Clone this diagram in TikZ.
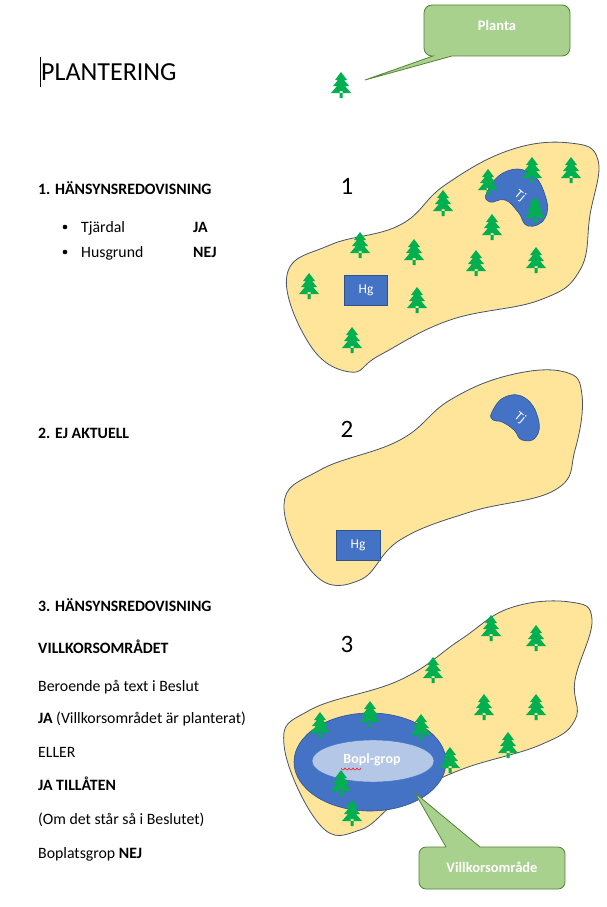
\documentclass[tikz,border=0pt]{standalone}
\usepackage{fontspec}
\setmainfont{Carlito}
\definecolor{landc}{RGB}{255,229,153}
\definecolor{landd}{RGB}{68,84,106}
\definecolor{pondc}{RGB}{68,114,196}
\definecolor{pondd}{RGB}{47,82,143}
\definecolor{callc}{RGB}{169,209,142}
\definecolor{calld}{RGB}{84,130,53}
\definecolor{treec}{RGB}{0,176,80}
\definecolor{boplc}{RGB}{180,199,231}
\begin{document}
\begin{tikzpicture}[x=1pt,y=-1pt,
  land/.style={fill=landc,draw=landd,line width=0.8pt},
  pond/.style={fill=pondc,draw=pondd,line width=0.6pt},
  callout/.style={fill=callc,draw=calld,line width=0.8pt},
  txt/.style={anchor=base west,inner sep=0pt,font=\fontsize{15.8}{18}\selectfont},
  btxt/.style={txt,font=\fontsize{15.8}{18}\selectfont\bfseries},
  num/.style={anchor=base,inner sep=0pt,font=\fontsize{25}{28}\selectfont},
  tree/.pic={\fill[treec] (-1.5,6) rectangle (1.5,13)
     (0,-13)--(6,-5)--(3,-5)--(8,1)--(4,1)--(10,8)--(-10,8)--(-4,1)--(-8,1)--(-3,-5)--(-6,-5)--cycle;}]
\useasboundingbox (0,0) rectangle (606,907);
% callout Planta
\path[callout] (432,5) -- (562,5) to[out=0,in=90] (570,13) -- (570,48) to[out=-90,in=0] (562,56) -- (452,56) -- (365,80) -- (433,56) -- (432,56) to[out=180,in=-90] (424,48) -- (424,13) to[out=90,in=180] cycle;
\node[font=\fontsize{14.5}{16}\selectfont\bfseries,text=white] (planta) at (497,25) {Planta};
% title
\draw[line width=0.6pt] (40,57) -- (40,87);
\node[anchor=base west,inner sep=0pt,font=\fontsize{26}{30}\selectfont] (title) at (41,80) {PLANTERING};
\pic at (341,85) {tree};
% texts
\node[btxt] (h1) at (38,194) {1. HÄNSYNSREDOVISNING};
\fill (65,227) circle (2.3); \fill (65,252) circle (2.3);
\node[txt] (t1) at (81,232) {Tjärdal};
\node[btxt] (t1b) at (193,232) {JA};
\node[txt] (t2) at (81,257) {Husgrund};
\node[btxt] (t2b) at (193,257) {NEJ};
\node[btxt] (h2) at (38,438) {2. EJ AKTUELL};
\node[btxt] (h3) at (38,611) {3. HÄNSYNSREDOVISNING};
\node[btxt] (h4) at (38,653) {VILLKORSOMRÅDET};
\node[txt] (l1) at (38,691) {Beroende på text i Beslut};
\node[txt] (l2) at (38,723) {\textbf{JA} (Villkorsområdet är planterat)};
\node[txt] (l3) at (38,757) {ELLER};
\node[btxt] (l4) at (38,790) {JA TILLÅTEN};
\node[txt] (l5) at (38,824) {(Om det står så i Beslutet)};
\node[txt] (l6) at (38,858) {Boplatsgrop \textbf{NEJ}};
\node[num] (n1) at (347,194) {1};
\node[num] (n2) at (347,437) {2};
\node[num] (n3) at (347,652) {3};
% map 1
\draw[land] plot[smooth cycle,tension=0.7] coordinates {(287,275) (330,245) (400,225) (445,185) (510,150) (570,143) (598,160) (590,215) (580,270) (540,300) (450,320) (380,355) (350,372) (310,345)};
\draw[pond] plot[smooth cycle,tension=0.8] coordinates {(487,192) (505,172) (530,173) (545,195) (545,218) (528,226) (518,212) (505,200) (490,202)};
\node[text=white,rotate=-40,inner sep=0pt,font=\fontsize{13}{15}\selectfont] (tj1) at (520,196) {T\kern1pt j};
\node[pond,minimum width=43,minimum height=30,inner sep=0pt,text=white,font=\fontsize{13.5}{15}\selectfont] (hg1) at (366,290) {Hg};
\foreach \p in {(488,182),(532,170),(571,170),(443,203),(492,227),(535,210),(360,245),(414,252),(476,263),(536,260),(309,286),(417,300),(352,340)} \pic at \p {tree};
% map 2
\draw[land] plot[smooth cycle,tension=0.7] coordinates {(284,505) (320,470) (400,440) (450,400) (510,375) (565,372) (582,395) (575,450) (555,490) (470,512) (400,540) (360,580) (315,575)};
\draw[pond] plot[smooth cycle,tension=0.8] coordinates {(492,412) (505,397) (525,398) (538,418) (536,437) (522,440) (514,430) (502,422) (493,420)};
\node[text=white,rotate=-40,inner sep=0pt,font=\fontsize{13}{15}\selectfont] (tj2) at (520,418) {T\kern1pt j};
\node[pond,minimum width=44,minimum height=30,inner sep=0pt,text=white,font=\fontsize{13.5}{15}\selectfont] (hg2) at (358,545) {Hg};
% map 3
\draw[land] plot[smooth cycle,tension=0.7] coordinates {(284,745) (310,710) (400,680) (460,640) (510,608) (570,602) (592,620) (575,680) (575,720) (540,745) (460,770) (400,800) (360,830) (320,825)};
\draw[pond] (370,762) ellipse (76 and 49);
\draw[fill=boplc,draw=pondc] (373,761) ellipse (61 and 21);
\node[text=white,font=\fontsize{14}{15}\selectfont\bfseries] (bg) at (372,760) {Bopl-grop};
\draw[red,line width=0.5pt] (341,768) sin (343,770) cos (345,768) sin (347,770) cos (349,768) sin (351,770) cos (353,768) sin (355,770) cos (357,768) sin (359,770) cos (361,768);
\foreach \p in {(491,628),(536,638),(433,670),(484,707),(536,707),(508,745),(320,725),(370,714),(421,727),(450,760),(341,783),(352,813)} \pic at \p {tree};
% callout Villkorsområde
\path[callout] (426,847) -- (446,847) -- (415,793) -- (480,847) -- (558,847) to[out=0,in=90] (565,854) -- (565,882) to[out=-90,in=0] (558,889) -- (426,889) to[out=180,in=-90] (419,882) -- (419,854) to[out=90,in=180] cycle;
\node[font=\fontsize{14.5}{16}\selectfont\bfseries,text=white] (vo) at (492,867) {Villkorsområde};
\end{tikzpicture}
\end{document}
